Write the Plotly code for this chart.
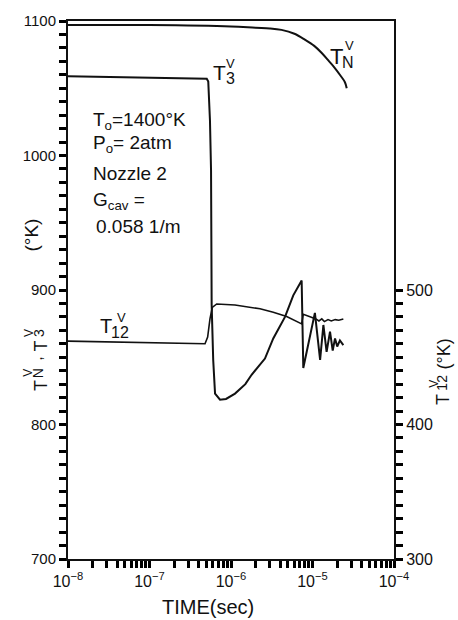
import plotly.graph_objects as go

# ---------------- data ----------------
# T_N^V (left axis, K)
tn_time = [1.0e-8, 1.0e-7, 1.0e-6, 2.0e-6, 3.0e-6, 4.17e-6, 6.0e-6, 8.13e-6,
           1.05e-5, 1.29e-5, 1.6e-5, 1.86e-5, 2.2e-5, 2.5e-5, 2.63e-5]
tn_temp = [1097, 1097, 1096, 1095, 1094.5, 1093.4, 1090.5, 1086,
           1081.5, 1076.4, 1070, 1065.4, 1059.5, 1054.5, 1050]

# T_3^V (left axis, K)
t3_time = [1.0e-8, 5.04e-7, 5.26e-7, 5.52e-7, 5.69e-7, 5.72e-7, 5.79e-7, 6.05e-7,
           6.37e-7, 7.33e-7, 8.69e-7, 1.12e-6, 1.5e-6, 1.79e-6, 2.61e-6, 3.30e-6,
           4.60e-6, 5.81e-6, 7.36e-6, 7.71e-6, 1.07e-5, 1.24e-5, 1.36e-5, 1.49e-5,
           1.64e-5, 1.77e-5, 1.89e-5, 2.01e-5, 2.17e-5, 2.39e-5]
t3_temp = [1059, 1057, 1055, 1026, 989, 920, 889, 848,
           823, 818.4, 819, 823, 830, 837, 849, 864,
           880, 896, 907, 842, 883, 848, 874, 854,
           869, 855, 864, 858, 862.5, 859]

# T_12^V (right axis, K)
t12_time = [1.0e-8, 1.0e-7, 4.8e-7, 5.17e-7, 5.52e-7, 5.89e-7, 6.68e-7, 1.12e-6,
            2.27e-6, 3.30e-6, 4.82e-6, 7.36e-6, 7.71e-6, 9.5e-6, 1.1e-5, 1.2e-5,
            1.3e-5, 1.4e-5, 1.55e-5, 1.7e-5, 1.9e-5, 2.1e-5, 2.39e-5]
t12_temp = [462, 461, 460, 465, 478.5, 487, 489.6, 488.8,
            486, 483.4, 480.3, 474.8, 482, 480, 478.5, 477,
            478.5, 476.5, 478, 477, 478, 477.5, 478.5]

x_decades = [-8, -7, -6, -5, -4]
y_left_labels = [700, 800, 900, 1000, 1100]
y_right_labels = [300, 400, 500]

FONT = "Liberation Sans, Arial, sans-serif"

# tick positions (major + minor drawn alike, labels only on majors)
x_tickvals, x_ticktext = [], []
for e in x_decades:
    x_tickvals.append(10.0 ** e)
    x_ticktext.append("10<sup>−%d</sup>" % (-e))
    if e < x_decades[-1]:
        for m in range(2, 10):
            x_tickvals.append(m * 10.0 ** e)
            x_ticktext.append(" ")

yl_tickvals = list(range(700, 1101, 10))
yl_ticktext = [str(v) if v in y_left_labels else " " for v in yl_tickvals]
yr_tickvals = list(range(300, 501, 10))
yr_ticktext = [str(v) if v in y_right_labels else " " for v in yr_tickvals]

# ---------------- figure ----------------
fig = go.Figure()
fig.add_trace(go.Scatter(x=tn_time, y=tn_temp, mode="lines", line_shape="spline",
                         line=dict(color="#111", width=2), showlegend=False))
fig.add_trace(go.Scatter(x=t3_time, y=t3_temp, mode="lines",
                         line=dict(color="#111", width=2), showlegend=False))
fig.add_trace(go.Scatter(x=t12_time, y=t12_temp, mode="lines", yaxis="y2",
                         line=dict(color="#111", width=1.6), showlegend=False))

L, R, T, B = 68, 394, 16, 559
W, H = 458, 620


def P(px, py):
    return (px - L) / (R - L), (B - py) / (B - T)


annots = []


def txt(text, px, py, size, angle=0, anchor="center"):
    x, y = P(px, py)
    annots.append(dict(text=text, x=x, y=y, xref="paper", yref="paper",
                       xanchor=anchor, yanchor="middle", showarrow=False,
                       textangle=angle, font=dict(family=FONT, size=size, color="#111")))


# curve labels (stacked sub/superscripts)
txt("T", 219.5, 68, 21)
txt("3", 230, 74, 16)
txt("V", 230.5, 58.5, 13)

txt("T", 336, 52, 22)
txt("N", 348, 58, 16)
txt("V", 349.5, 41, 13)

txt("T", 105.5, 324, 20)
txt("12", 119.5, 330, 16)
txt("V", 121, 315, 13)

# condition block
txt("T<sub>o</sub>=1400°K", 91, 117, 19, anchor="left")
txt("P<sub>o</sub>= 2atm", 91, 140, 19, anchor="left")
txt("Nozzle 2", 91, 170, 19, anchor="left")
txt("G<sub>cav</sub> =", 91, 198, 19, anchor="left")
txt("0.058 1/m", 94, 223, 19, anchor="left")

# left axis title (rotated)
txt("(°K)", 31.5, 232, 19, -90)
txt("T", 40.5, 384, 18, -90)
txt("N", 37.5, 372, 14, -90)
txt("V", 28.5, 371.5, 12, -90)
txt(",", 37, 357, 16, -90)
txt("T", 40.5, 344, 18, -90)
txt("3", 39, 331, 14, -90)
txt("V", 29, 331, 12, -90)

# right axis title (rotated)
txt("T", 443.5, 398, 18, -90)
txt("12", 442, 381, 14, -90)
txt("V", 434, 382, 12, -90)
txt("(°K)", 443.5, 352, 18, -90)

# x axis title
txt("TIME(sec)", 208, 607, 20)

tick_common = dict(ticks="outside", ticklen=7, tickwidth=2.5, tickcolor="#000",
                   showgrid=False, zeroline=False, showline=True,
                   linecolor="#111", linewidth=2, tickmode="array")

fig.update_layout(
    width=W, height=H,
    margin=dict(l=L, r=W - R, t=T, b=H - B),
    paper_bgcolor="white", plot_bgcolor="white",
    font=dict(family=FONT, size=15, color="#111"),
    annotations=annots,
    xaxis=dict(type="log", range=[-8, -4], mirror=True, tickangle=0,
               tickvals=x_tickvals, ticktext=x_ticktext,
               tickfont=dict(family=FONT, size=16), **tick_common),
    yaxis=dict(range=[700, 1100],
               tickvals=yl_tickvals, ticktext=yl_ticktext,
               tickfont=dict(family=FONT, size=15), **tick_common),
    yaxis2=dict(range=[300, 700], overlaying="y", side="right", anchor="x",
                tickvals=yr_tickvals, ticktext=yr_ticktext,
                tickfont=dict(family=FONT, size=16), **tick_common),
)

fig.write_html("out.html")
